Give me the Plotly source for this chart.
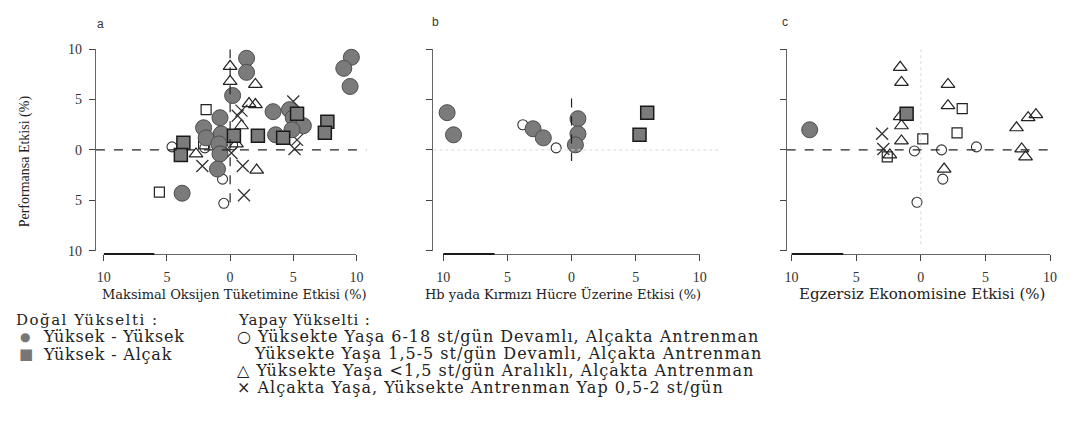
import plotly.graph_objects as go

# ---------------- data ----------------
tick_vals = [-10, -5, 0, 5, 10]
tick_text = ["10", "5", "0", "5", "10"]

panel_labels = ["a", "b", "c"]
x_titles = ["Maksimal Oksijen Tüketimine Etkisi (%)",
            "Hb yada Kırmızı Hücre Üzerine Etkisi (%)",
            "Egzersiz Ekonomisine Etkisi (%)"]
y_title = "Performansa Etkisi (%)"

legend_nat_title = "Doğal Yükselti :"
legend_nat_items = ["Yüksek - Yüksek", "Yüksek - Alçak"]
legend_art_title = "Yapay Yükselti :"
legend_art_items = ["○ Yüksekte Yaşa 6-18 st/gün Devamlı, Alçakta Antrenman",
                    "Yüksekte Yaşa 1,5-5 st/gün Devamlı, Alçakta Antrenman",
                    "△ Yüksekte Yaşa <1,5 st/gün Aralıklı, Alçakta Antrenman",
                    "× Alçakta Yaşa, Yüksekte Antrenman Yap 0,5-2 st/gün"]

# panel a : VO2max
a_hh_x = [1.3, 1.3, 0.2, -0.8, -2.1, -1.9, -0.7, -0.9, -0.8, -1.0, -3.8, 3.4, 3.6, 4.7, 5.0, 5.8, 4.9, 9.6, 9.0, 9.5]
a_hh_y = [9.1, 7.7, 5.4, 3.2, 2.2, 1.2, 1.6, 0.6, -0.4, -1.9, -4.3, 3.8, 1.5, 4.0, 3.2, 2.4, 2.0, 9.2, 8.1, 6.3]
a_hl_x = [-3.7, -3.9, 0.3, 2.2, 4.2, 5.3, 7.7, 7.5]
a_hl_y = [0.7, -0.5, 1.4, 1.4, 1.2, 3.6, 2.8, 1.7]
a_oc_x = [-4.6, -0.6, -0.5, -2.0, 0.2]
a_oc_y = [0.3, -2.9, -5.3, 0.2, 0.5]
a_sq_x = [-5.6, -1.9, -2.1]
a_sq_y = [-4.2, 4.0, 0.6]
a_tr_x = [0.0, 0.0, 2.0, 2.0, 0.9, 2.1, -2.7, 0.5, 1.5]
a_tr_y = [8.3, 6.8, 6.5, 4.5, 2.4, -2.0, -0.4, 0.6, 4.6]
a_xx_x = [5.0, 5.1, 1.1, -2.2, 1.0, 0.6, 0.9, 0.1, 5.3]
a_xx_y = [4.8, 0.1, -4.5, -1.6, -1.6, 3.4, 3.9, -0.3, 1.0]

# panel b : Hb / red cell
b_hh_x = [-9.7, -9.2, -3.0, -2.2, 0.5, 0.5, 0.3, 11.1]
b_hh_y = [3.7, 1.5, 2.1, 1.2, 3.1, 1.6, 0.5, 2.1]
b_hl_x = [5.9, 5.3]
b_hl_y = [3.7, 1.5]
b_oc_x = [-3.8, -1.2]
b_oc_y = [2.5, 0.2]
b_sq_x, b_sq_y = [], []
b_tr_x, b_tr_y = [], []
b_xx_x, b_xx_y = [], []

# panel c : exercise economy
c_hh_x = [-8.6]
c_hh_y = [2.0]
c_hl_x = [-1.1]
c_hl_y = [3.6]
c_oc_x = [-0.5, 1.6, 4.3, -0.3, 1.7]
c_oc_y = [-0.1, 0.0, 0.3, -5.2, -2.9]
c_sq_x = [0.15, 2.8, -2.6, 3.2]
c_sq_y = [1.1, 1.7, -0.7, 4.1]
c_tr_x = [-1.6, -1.5, 2.1, 2.1, -1.6, -1.5, -1.5, -2.4, 1.8, 7.4, 8.3, 8.9, 7.8, 8.1]
c_tr_y = [8.2, 6.7, 6.5, 4.4, 3.3, 2.4, 0.9, -0.5, -1.9, 2.2, 3.2, 3.5, 0.1, -0.7]
c_xx_x = [-3.0, -2.9]
c_xx_y = [1.6, 0.1]

panels = [
    dict(hh=(a_hh_x, a_hh_y), hl=(a_hl_x, a_hl_y), oc=(a_oc_x, a_oc_y),
         sq=(a_sq_x, a_sq_y), tr=(a_tr_x, a_tr_y), xx=(a_xx_x, a_xx_y)),
    dict(hh=(b_hh_x, b_hh_y), hl=(b_hl_x, b_hl_y), oc=(b_oc_x, b_oc_y),
         sq=(b_sq_x, b_sq_y), tr=(b_tr_x, b_tr_y), xx=(b_xx_x, b_xx_y)),
    dict(hh=(c_hh_x, c_hh_y), hl=(c_hl_x, c_hl_y), oc=(c_oc_x, c_oc_y),
         sq=(c_sq_x, c_sq_y), tr=(c_tr_x, c_tr_y), xx=(c_xx_x, c_xx_y)),
]

# ---------------- geometry (page pixels) ----------------
PAGE_W, PAGE_H = 1074, 430
OFF = 8                       # default body margin of the html page
WF, HF = PAGE_W - 2 * OFF, PAGE_H - 2 * OFF


def fx(px):
    return (px - OFF) / WF


def fy(py):
    return 1 - (py - OFF) / HF


# ---------------- styles ----------------
marker_styles = {
    "sq": dict(symbol="square-open", size=10, color="#222", line=dict(width=1.2, color="#222")),
    "oc": dict(symbol="circle-open", size=10, color="#333", line=dict(width=1.1, color="#333")),
    "tr": dict(symbol="triangle-up-open", size=12, color="#222", line=dict(width=1.2, color="#222")),
    "xx": dict(symbol="x-thin-open", size=12, color="#333", line=dict(width=1.3, color="#333")),
    "hh": dict(symbol="circle", size=16, color="#7b7b7b", line=dict(width=1, color="#4d4d4d")),
    "hl": dict(symbol="square", size=13, color="#7b7b7b", line=dict(width=1.5, color="#1a1a1a")),
}
draw_order = ["sq", "oc", "tr", "xx", "hh", "hl"]

# axis frame: x domain spans exactly -10..10, y domain exactly -10..10 (R style)
zero_px = [226, 572, 926]
ppu_x = [12.8, 13.0, 13.1]
yaxis_px = [89, 431, 789]          # where each detached y axis sits
xaxis_py = 256                     # where the detached x axes sit
y_zero_px, ppu_y = 148, 10.45

SERIF = "Liberation Serif, Times New Roman, serif"
WIDE_SERIF = "DejaVu Serif, serif"
AX_COL = "#444"

fig = go.Figure()
layout = dict(width=WF, height=HF, margin=dict(l=0, r=0, t=0, b=0),
              paper_bgcolor="white", plot_bgcolor="rgba(0,0,0,0)", showlegend=False)
shapes = []
annotations = []

y_dom = [fy(y_zero_px + 10 * ppu_y), fy(y_zero_px - 10 * ppu_y)]

for i, p in enumerate(panels):
    sfx = "" if i == 0 else str(i + 1)
    xa, ya = "x" + sfx, "y" + sfx
    for key in draw_order:
        xs, ys = p[key]
        if not xs:
            continue
        fig.add_trace(go.Scatter(x=xs, y=ys, mode="markers", xaxis=xa, yaxis=ya,
                                 marker=marker_styles[key], cliponaxis=False,
                                 hoverinfo="skip"))
    x_dom = [fx(zero_px[i] - 10 * ppu_x[i]), fx(zero_px[i] + 10 * ppu_x[i])]
    layout["xaxis" + sfx] = dict(domain=x_dom, range=[-10, 10], anchor="free",
                                 position=fy(xaxis_py),
                                 showgrid=False, zeroline=False,
                                 showline=True, linecolor="#666", linewidth=1.3,
                                 ticks="outside", ticklen=6, tickwidth=1.3, tickcolor=AX_COL,
                                 tickvals=tick_vals, ticktext=tick_text, ticklabelstandoff=4,
                                 tickfont=dict(family=SERIF, size=14, color="#333"))
    layout["yaxis" + sfx] = dict(domain=y_dom, range=[-10, 10], anchor="free",
                                 position=fx(yaxis_px[i]),
                                 showgrid=False, zeroline=False,
                                 showline=True, linecolor="#666", linewidth=1.3,
                                 ticks="outside", ticklen=6, tickwidth=1.3, tickcolor=AX_COL,
                                 tickvals=tick_vals, ticktext=tick_text,
                                 showticklabels=(i == 0), ticklabelstandoff=4,
                                 tickfont=dict(family=SERIF, size=14, color="#333"))
    # darker left part of each x axis line, as in the reference
    shapes.append(dict(type="line", xref="paper", yref="paper",
                       x0=x_dom[0], x1=fx(zero_px[i] - 6 * ppu_x[i]),
                       y0=fy(xaxis_py), y1=fy(xaxis_py),
                       layer="above", line=dict(color="#1a1a1a", width=2)))

# reference lines
# panel a
shapes.append(dict(type="line", xref="paper", yref="y", x0=fx(90), x1=fx(364), y0=0, y1=0,
                   line=dict(color="#222", width=1.2, dash="dash")))
shapes.append(dict(type="line", xref="x", yref="y", x0=0, x1=0, y0=10, y1=-5.8,
                   line=dict(color="#222", width=1.2, dash="dash")))
# panel b
shapes.append(dict(type="line", xref="paper", yref="y2", x0=fx(432), x1=fx(724), y0=0, y1=0,
                   line=dict(color="#d8d8d8", width=1, dash="dot")))
shapes.append(dict(type="line", xref="x2", yref="y2", x0=0, x1=0, y0=5.1, y1=-1.1,
                   line=dict(color="#222", width=1.2, dash="dash")))
# panel c
shapes.append(dict(type="line", xref="x3", yref="y3", x0=0, x1=0, y0=10, y1=-9.5,
                   line=dict(color="#d8d8d8", width=1, dash="dot")))
shapes.append(dict(type="line", xref="paper", yref="y3", x0=fx(790), x1=fx(1057), y0=0, y1=0,
                   line=dict(color="#222", width=1.2, dash="dash")))


def ann(text, px, py, size, family=SERIF, xanchor="left", color="#222", angle=0, ls=None):
    if ls is not None:
        text = "<span style='letter-spacing:%spx'>%s</span>" % (ls, text)
    annotations.append(dict(text=text, x=fx(px), y=fy(py), xref="paper", yref="paper",
                            xanchor=xanchor, yanchor="middle", showarrow=False,
                            textangle=angle,
                            font=dict(family=family, size=size, color=color)))


# panel labels
for lab, (px, py) in zip(panel_labels, [(95, 17), (434, 15), (788, 15)]):
    ann(lab, px, py, 12, family="Liberation Sans", xanchor="center", color="#333")
# axis titles
for t, cx, fs in zip(x_titles, [230, 563, 927], [13, 13, 15]):
    ann(t, cx, 298, fs, family=WIDE_SERIF, xanchor="center", color="#222")
ann(y_title, 19, 160, 14, family=SERIF, xanchor="center", color="#222", angle=-90)

# legend
LF = 16
ann(legend_nat_title, 7, 324, 15, family=WIDE_SERIF, ls=1.5)
ann("<span style='color:#777'>●</span>", 11, 342, 12, family=WIDE_SERIF)
ann("<span style='color:#777'>■</span>", 10, 360, 15, family=WIDE_SERIF)
ann(legend_nat_items[0], 34, 342, LF, family=WIDE_SERIF, ls=0.8)
ann(legend_nat_items[1], 34, 360, LF, family=WIDE_SERIF, ls=0.8)
ann(legend_art_title, 232, 324, 15, family=WIDE_SERIF, ls=0.8)
ann(legend_art_items[0], 231, 342, LF, family=WIDE_SERIF, ls=1)
ann(legend_art_items[1], 248, 359, LF, family=WIDE_SERIF, ls=1)
ann(legend_art_items[2], 231, 377, LF, family=WIDE_SERIF, ls=1)
ann(legend_art_items[3], 231, 394, LF, family=WIDE_SERIF, ls=1)

layout["shapes"] = shapes
layout["annotations"] = annotations
fig.update_layout(**layout)
fig.write_html("out.html")
